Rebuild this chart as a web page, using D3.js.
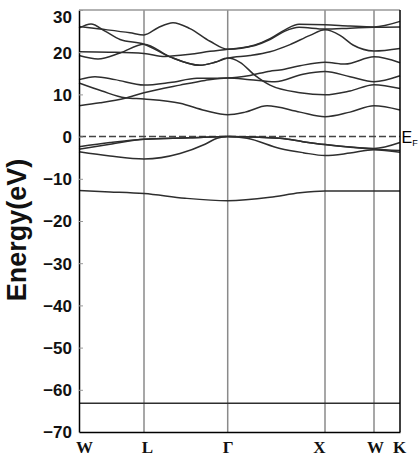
<!DOCTYPE html>
<html>
<head>
<meta charset="utf-8">
<script src="https://cdn.jsdelivr.net/npm/d3@7"></script>
<style>
  body { margin: 0; background: #fff; }
</style>
</head>
<body>
<script>
// high symmetry points along the k-path
var kLabels = ["W", "L", "Γ", "X", "W", "K"];
var kPos = [0, 0.65, 1.487, 2.46, 2.95, 3.21];
var kLabelDx = [5, 3, 0, -6, 1, -1];

var yTicks = [30, 20, 10, 0, -10, -20, -30, -40, -50, -60, -70];

// bands as [k, energy in eV]
var bandDeep = [[0, -63.2], [3.21, -63.2]];
var bandS = [[0, -12.8], [0.31, -13.1], [0.65, -13.5], [1.06, -14.6], [1.487, -15.2], [1.91, -14.4],
  [2.21, -13.3], [2.46, -12.9], [2.95, -12.9], [3.21, -12.9]];
var bandV1 = [[0, -3.6], [0.31, -4.6], [0.65, -5.3], [1.01, -4.0], [1.26, -1.8], [1.38, -0.4], [1.487, 0],
  [1.68, -0.4], [2.01, -2.8], [2.24, -3.8], [2.46, -4.5], [2.71, -3.9], [2.95, -3.1], [3.21, -3.7]];
var bandV2 = [[0, -2.4], [0.31, -1.4], [0.65, -0.6], [1.11, -0.3], [1.487, 0], [2.01, -0.4], [2.24, -1.2],
  [2.46, -1.9], [2.95, -2.8], [3.21, -1.4]];
var bandV3 = [[0, -3.0], [0.31, -1.8], [0.65, -0.6], [1.11, -0.3], [1.487, 0], [2.01, -0.4], [2.24, -1.2],
  [2.46, -1.9], [2.95, -3.0], [3.21, -3.3]];
var bandM1 = [[0, 13.5], [0.16, 14.2], [0.36, 13.5], [0.65, 12.2], [0.91, 12.8], [1.18, 13.8], [1.487, 13.9],
  [1.71, 14.5], [1.91, 15.5], [2.01, 15.8], [2.21, 16.8], [2.46, 17.6], [2.66, 17.2], [2.95, 18.9], [3.21, 17.5]];
var bandM2 = [[0, 12.7], [0.23, 10.8], [0.46, 9.2], [0.65, 8.9], [1.01, 7.9], [1.26, 6.2], [1.487, 5.2],
  [1.66, 5.8], [1.88, 7.3], [2.21, 5.8], [2.46, 4.7], [2.71, 5.8], [2.95, 7.3], [3.21, 6.3]];
var bandM3 = [[0, 7.3], [0.21, 8.0], [0.46, 9.1], [0.65, 10.4], [1.01, 12.2], [1.26, 13.3], [1.487, 13.9],
  [1.71, 13.5], [1.96, 13.0], [2.24, 14.8], [2.46, 15.4], [2.71, 14.2], [2.95, 13.0], [3.21, 14.4]];
var bandU4 = [[0, 19.2], [0.19, 18.4], [0.41, 19.8], [0.65, 21.9], [0.91, 18.9], [1.21, 16.9], [1.36, 17.6],
  [1.487, 18.6], [1.61, 17.6], [1.76, 14.5], [1.91, 12.2], [2.21, 10.4], [2.46, 9.9], [2.71, 10.8],
  [2.95, 12.3], [3.21, 11.4]];
var bandUa = [[0, 25.7], [0.12, 26.7], [0.26, 25.0], [0.41, 23.0], [0.65, 21.9], [0.91, 18.9], [1.21, 16.9],
  [1.36, 17.6], [1.487, 18.6], [1.71, 19.2], [1.91, 20.1], [2.11, 21.8], [2.31, 24.0], [2.46, 25.3],
  [2.61, 24.0], [2.74, 21.7], [2.95, 20.3], [3.21, 20.9]];
var bandUb = [[0, 26.1], [0.21, 25.5], [0.51, 24.6], [0.65, 24.1], [0.79, 25.8], [0.94, 27.0], [1.11, 25.6],
  [1.31, 22.6], [1.487, 20.7], [1.76, 21.7], [1.91, 23.2], [2.06, 25.3], [2.20, 26.6], [2.46, 26.5],
  [2.71, 26.2], [2.95, 26.0], [3.21, 27.3]];
var bandUc = [[0, 20.1], [0.3, 20.0], [0.65, 19.7], [0.86, 19.0], [1.11, 19.5], [1.31, 20.2], [1.487, 20.7],
  [1.76, 21.6], [1.91, 23.0], [2.06, 25.0], [2.20, 25.9], [2.46, 25.5], [2.71, 25.7], [2.95, 25.9], [3.21, 26.0]];

var bands = [bandDeep, bandS, bandV1, bandV2, bandV3, bandM1, bandM2, bandM3, bandU4, bandUa, bandUb, bandUc];

var width = 418, height = 459;
var margin = {top: 10, right: 18, bottom: 27, left: 79};

var svg = d3.select("body").append("svg")
    .attr("width", width)
    .attr("height", height);

var x = d3.scaleLinear().domain([0, 3.21]).range([margin.left, width - margin.right]);
var y = d3.scaleLinear().domain([-70, 30]).range([height - margin.bottom, margin.top]);

// vertical lines at the symmetry points
svg.selectAll(".kline")
    .data(kPos.slice(1, -1))
  .enter().append("line")
    .attr("class", "kline")
    .attr("x1", function(d) { return x(d); })
    .attr("x2", function(d) { return x(d); })
    .attr("y1", y(30))
    .attr("y2", y(-70))
    .style("stroke", "#8a8a8a")
    .style("stroke-width", 1.5);

// top border
svg.append("line")
    .attr("x1", x(0)).attr("x2", x(3.21))
    .attr("y1", y(30)).attr("y2", y(30))
    .style("stroke", "#999")
    .style("stroke-width", 1.5);

// Fermi level
svg.append("line")
    .attr("x1", x(0)).attr("x2", x(3.21))
    .attr("y1", y(0)).attr("y2", y(0))
    .style("stroke", "#444")
    .style("stroke-width", 1.5)
    .style("stroke-dasharray", "7,3");

var line = d3.line()
    .x(function(d) { return x(d[0]); })
    .y(function(d) { return y(d[1]); })
    .curve(d3.curveMonotoneX);

svg.selectAll(".band")
    .data(bands)
  .enter().append("path")
    .attr("class", "band")
    .attr("d", line)
    .style("fill", "none")
    .style("stroke", "#2e2e2e")
    .style("stroke-width", 1.5);

// y axis
var yAxis = svg.append("g")
    .attr("transform", "translate(" + margin.left + ",0)")
    .call(d3.axisLeft(y).tickValues(yTicks).tickSizeInner(-4).tickSizeOuter(0).tickPadding(7));

yAxis.select(".domain").style("stroke", "#000").style("stroke-width", 1.5);
yAxis.selectAll(".tick line").style("stroke", "#999");
yAxis.selectAll(".tick text")
    .style("font-family", "'Liberation Sans', Arial, sans-serif")
    .style("font-size", "17px")
    .style("font-weight", "bold")
    .style("fill", "#111")
    .attr("dy", function(d) { return d === 30 ? "0.75em" : "0.35em"; });

// x axis
var xAxis = svg.append("g")
    .attr("transform", "translate(0," + (height - margin.bottom) + ")")
    .call(d3.axisBottom(x).tickValues(kPos).tickFormat(function(d, i) { return kLabels[i]; })
      .tickSize(0).tickPadding(9));

xAxis.select(".domain").style("stroke", "#000").style("stroke-width", 1.5);
xAxis.selectAll(".tick text")
    .attr("dx", function(d, i) { return kLabelDx[i]; })
    .style("font-family", "'Liberation Serif', 'Times New Roman', serif")
    .style("font-size", "17px")
    .style("font-weight", "bold")
    .style("fill", "#111");

// right border
svg.append("line")
    .attr("x1", x(3.21)).attr("x2", x(3.21))
    .attr("y1", y(30)).attr("y2", y(-70))
    .style("stroke", "#000")
    .style("stroke-width", 1.5);

// E_F label
var ef = svg.append("text")
    .attr("x", x(3.21) + 1.5)
    .attr("y", y(0) + 6)
    .style("font-family", "'Liberation Sans', Arial, sans-serif")
    .style("font-size", "16px")
    .text("E");
ef.append("tspan")
    .attr("dy", 3)
    .style("font-size", "9px")
    .text("F");

// y label
svg.append("text")
    .attr("transform", "translate(26," + 230 + ") rotate(-90)")
    .attr("text-anchor", "middle")
    .style("font-family", "'Liberation Sans', Arial, sans-serif")
    .style("font-size", "27px")
    .style("font-weight", "bold")
    .style("fill", "#111")
    .text("Energy(eV)");
</script>
</body>
</html>
